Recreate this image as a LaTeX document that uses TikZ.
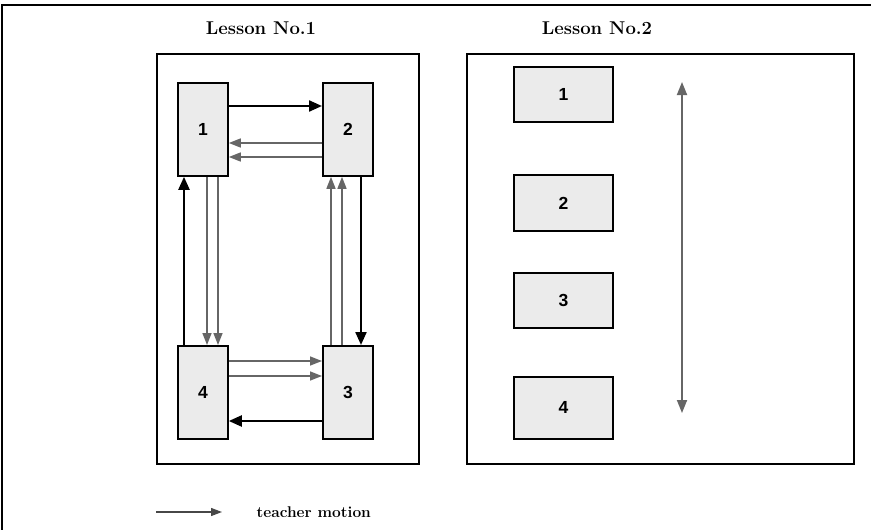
\documentclass[tikz,border=0pt]{standalone}
\usepackage{fontspec}
\newfontfamily\digitfont{Liberation Sans}
\usetikzlibrary{arrows.meta}
\definecolor{boxfill}{gray}{0.92}
\definecolor{garrow}{gray}{0.40}
\tikzset{
  frameline/.style={line width=2.2pt, black},
  panel/.style={draw, line width=2pt, anchor=north west, inner sep=0pt},
  lbox/.style={draw, line width=1.8pt, fill=boxfill, anchor=north west, inner sep=0pt,
    font=\digitfont\bfseries\fontsize{17.5}{20}\selectfont},
  blk/.style={line width=2.2pt, black, -{Triangle[length=13pt,width=11pt]}},
  gry/.style={line width=1.5pt, garrow, -{Triangle[length=12pt,width=9pt]}},
  dbl/.style={line width=1.8pt, garrow, {Triangle[length=13pt,width=10pt]}-{Triangle[length=13pt,width=10pt]}},
  title/.style={font=\bfseries\fontsize{18.5}{21}\selectfont},
  legtext/.style={font=\bfseries\fontsize{15.5}{18}\selectfont, anchor=west}
}
\begin{document}
\begin{tikzpicture}[x=1pt,y=-1pt]
\useasboundingbox (0,0) rectangle (871,530);
\draw[frameline] (2,530) -- (2,5) -- (871,5);
% titles
\node[title] (t1) at (261,28) {Lesson No.1};
\node[title] (t2) at (597,28) {Lesson No.2};
% panels
\node[panel, minimum width=262pt, minimum height=410pt] (lp) at (156,53) {};
\node[panel, minimum width=387pt, minimum height=410pt] (rp) at (466,53) {};
% lesson 1 boxes
\node[lbox, minimum width=50pt, minimum height=93pt] (a1) at (177,82) {1};
\node[lbox, minimum width=50pt, minimum height=93pt] (a2) at (322,82) {2};
\node[lbox, minimum width=50pt, minimum height=93pt] (a3) at (322,345) {3};
\node[lbox, minimum width=50pt, minimum height=93pt] (a4) at (177,345) {4};
% lesson 1 arrows
\draw[blk] ([yshift=-24pt]a1.north east) -- ([yshift=-24pt]a2.north west);
\draw[gry] ([yshift=-61pt]a2.north west) -- ([yshift=-61pt]a1.north east);
\draw[gry] ([yshift=-75pt]a2.north west) -- ([yshift=-75pt]a1.north east);
\draw[blk] ([xshift=39pt]a2.south west) -- ([xshift=39pt]a3.north west);
\draw[gry] ([xshift=9pt]a3.north west) -- ([xshift=9pt]a2.south west);
\draw[gry] ([xshift=20pt]a3.north west) -- ([xshift=20pt]a2.south west);
\draw[blk] ([yshift=-76pt]a3.north west) -- ([yshift=-76pt]a4.north east);
\draw[gry] ([yshift=-16pt]a4.north east) -- ([yshift=-16pt]a3.north west);
\draw[gry] ([yshift=-31pt]a4.north east) -- ([yshift=-31pt]a3.north west);
\draw[blk] ([xshift=7pt]a4.north west) -- ([xshift=7pt]a1.south west);
\draw[gry] ([xshift=30pt]a1.south west) -- ([xshift=30pt]a4.north west);
\draw[gry] ([xshift=41pt]a1.south west) -- ([xshift=41pt]a4.north west);
% lesson 2 boxes
\node[lbox, minimum width=99pt, minimum height=55pt] (b1) at (513,66) {1};
\node[lbox, minimum width=99pt, minimum height=56pt] (b2) at (513,174) {2};
\node[lbox, minimum width=99pt, minimum height=55pt] (b3) at (513,272) {3};
\node[lbox, minimum width=99pt, minimum height=62pt] (b4) at (513,376) {4};
\coordinate (dtop) at (682,82);
\coordinate (dbot) at (682,413);
\draw[dbl] (dtop) -- (dbot);
% legend
\coordinate (l1) at (156,512);
\coordinate (l2) at (222,512);
\draw[line width=1.3pt, garrow!70!black, -{Triangle[length=11pt,width=8pt]}] (l1) -- (l2);
\node[legtext] (lt) at (253,512) {teacher motion};
\end{tikzpicture}
\end{document}
